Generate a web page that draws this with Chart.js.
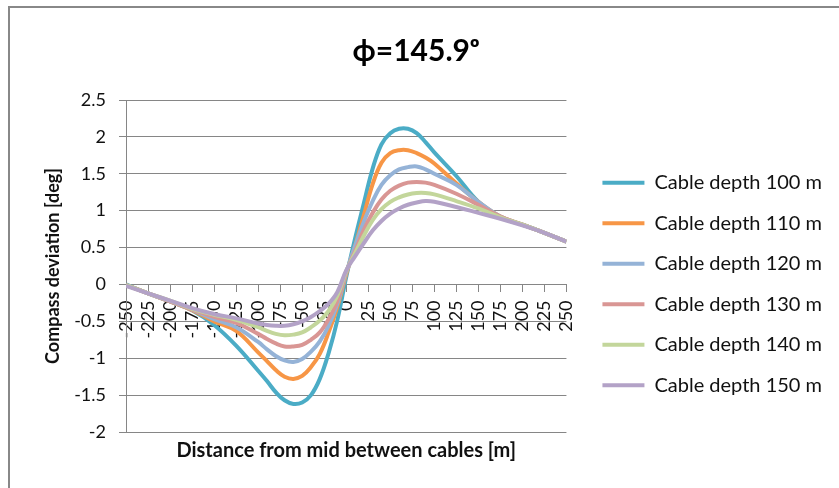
<!DOCTYPE html>
<html>
<head>
<meta charset="utf-8">
<script src="https://cdn.jsdelivr.net/npm/chart.js@4"></script>
<style>
	body { margin: 0; background: #fff; }
	#wrap { position: relative; width: 839px; height: 488px; overflow: hidden; }
	#frame { position: absolute; left: 8px; top: 6px; width: 900px; height: 600px; border-left: 2px solid #888; border-top: 2px solid #888; pointer-events: none; }
</style>
</head>
<body>
<div id="wrap">
	<canvas id="deviation-chart" width="839" height="488"></canvas>
	<div id="frame"></div>
</div>
<script>
// distance from mid between cables [m]
const distances = [-250, -225, -200, -175, -150, -125, -100, -90, -80, -70, -60, -50, -40, -30, -20, -10, 0, 10, 20, 30, 40, 50, 60, 70, 80, 90, 100, 125, 150, 175, 200, 225, 250];

// compass deviation [deg] per cable depth
const depth100 = [0.0, -0.12, -0.23, -0.35, -0.55, -0.83, -1.17, -1.31, -1.46, -1.57, -1.62, -1.6, -1.5, -1.28, -0.93, -0.48, 0.1, 0.62, 1.1, 1.57, 1.9, 2.05, 2.11, 2.11, 2.05, 1.93, 1.79, 1.47, 1.12, 0.91, 0.81, 0.7, 0.58];
const depth110 = [-0.01, -0.12, -0.23, -0.35, -0.5, -0.63, -0.92, -1.04, -1.16, -1.25, -1.28, -1.24, -1.12, -0.94, -0.65, -0.3, 0.14, 0.52, 0.94, 1.36, 1.65, 1.78, 1.82, 1.82, 1.78, 1.72, 1.64, 1.37, 1.12, 0.92, 0.81, 0.7, 0.58];
const depth120 = [-0.01, -0.12, -0.23, -0.34, -0.47, -0.58, -0.78, -0.88, -0.97, -1.03, -1.05, -1.01, -0.91, -0.77, -0.56, -0.26, 0.16, 0.52, 0.85, 1.13, 1.35, 1.48, 1.56, 1.59, 1.6, 1.56, 1.5, 1.35, 1.12, 0.92, 0.81, 0.7, 0.58];
const depth130 = [-0.01, -0.12, -0.23, -0.34, -0.44, -0.52, -0.67, -0.74, -0.8, -0.84, -0.84, -0.82, -0.75, -0.65, -0.47, -0.22, 0.17, 0.45, 0.74, 0.97, 1.15, 1.27, 1.34, 1.38, 1.39, 1.38, 1.35, 1.23, 1.08, 0.92, 0.81, 0.7, 0.58];
const depth140 = [-0.01, -0.12, -0.22, -0.33, -0.41, -0.48, -0.58, -0.63, -0.67, -0.69, -0.68, -0.65, -0.58, -0.49, -0.36, -0.15, 0.18, 0.42, 0.66, 0.87, 1.02, 1.12, 1.18, 1.22, 1.24, 1.24, 1.22, 1.13, 1.03, 0.91, 0.81, 0.7, 0.58];
const depth150 = [-0.02, -0.12, -0.22, -0.32, -0.4, -0.46, -0.53, -0.55, -0.56, -0.56, -0.54, -0.5, -0.44, -0.36, -0.26, -0.1, 0.19, 0.38, 0.56, 0.73, 0.86, 0.96, 1.03, 1.08, 1.11, 1.13, 1.12, 1.05, 0.97, 0.89, 0.8, 0.7, 0.58];

const seriesNames = ["Cable depth 100 m", "Cable depth 110 m", "Cable depth 120 m", "Cable depth 130 m", "Cable depth 140 m", "Cable depth 150 m"];
const seriesColors = ["#4BACC6", "#F79646", "#95B3D7", "#D99694", "#C3D69B", "#B3A2C7"];
const seriesValues = [depth100, depth110, depth120, depth130, depth140, depth150];

const FONT = "Lato, 'DejaVu Sans', sans-serif";
const AXIS_GREY = "#868686";
const TEXT = "#111";

Chart.defaults.font.family = FONT;
Chart.defaults.color = TEXT;

const datasets = seriesValues.map((vals, i) => ({
	label: seriesNames[i],
	data: distances.map((d, j) => ({ x: d, y: vals[j] })),
	borderColor: seriesColors[i],
	backgroundColor: seriesColors[i],
	borderWidth: 4,
	pointRadius: 0,
	tension: 0.4,
	fill: false,
	// excel draws the last series on top
	order: seriesValues.length - i,
	xAxisID: "x",
	yAxisID: "y",
}));

const ctx = document.getElementById("deviation-chart");

new Chart(ctx, {
	type: "line",
	data: { datasets },
	options: {
		responsive: false,
		animation: false,
		layout: { padding: { left: 0, right: 7, top: 0, bottom: 0 } },
		scales: {
			x: {
				type: "linear",
				position: "bottom",
				min: -250,
				max: 250,
				grid: { display: false, drawTicks: false },
				border: { display: false },
				ticks: { display: false },
				title: {
					display: true,
					text: "Distance from mid between cables [m]",
					color: TEXT,
					font: { size: 20, weight: "bold" },
					padding: { top: 7, bottom: 25 },
				},
			},
			// category labels sit on the zero line like in excel
			xZero: {
				type: "linear",
				axis: "x",
				position: { y: 0 },
				min: -250,
				max: 250,
				grid: { drawOnChartArea: false, drawTicks: true, tickLength: 7, color: AXIS_GREY },
				border: { display: true, color: AXIS_GREY },
				ticks: {
					stepSize: 25,
					autoSkip: false,
					minRotation: 90,
					maxRotation: 90,
					padding: 9,
					color: TEXT,
					font: { size: 18 },
				},
			},
			y: {
				min: -2,
				max: 2.5,
				grid: { color: AXIS_GREY, tickLength: 7 },
				border: { color: AXIS_GREY },
				ticks: {
					stepSize: 0.5,
					padding: 13,
					color: TEXT,
					font: { size: 18 },
					callback: (v) => String(v),
				},
				title: {
					display: true,
					text: "Compass deviation [deg]",
					color: TEXT,
					font: { size: 18, weight: "bold" },
					padding: { top: 42, bottom: 0 },
				},
				afterFit: (scale) => {
					scale.width = 126;
				},
			},
			// empty strip between plot and legend
			yGap: {
				type: "linear",
				axis: "y",
				position: "right",
				display: true,
				grid: { display: false, drawTicks: false },
				border: { display: false },
				ticks: { display: false },
				afterFit: (scale) => {
					scale.width = 15.5;
				},
			},
		},
		plugins: {
			title: {
				display: true,
				text: "ϕ=145.9ᵒ",
				color: "#000",
				font: { size: 30, weight: "bold" },
				padding: { top: 33, bottom: 31 },
			},
			legend: {
				position: "right",
				maxWidth: 400,
				title: { display: true, text: "", font: { size: 1 }, padding: { top: 79, bottom: 0 } },
				labels: {
					usePointStyle: true,
					pointStyle: "line",
					pointStyleWidth: 42,
					padding: 20.5,
					color: TEXT,
					font: { size: 20 },
					sort: (a, b) => a.datasetIndex - b.datasetIndex,
				},
			},
			tooltip: { enabled: false },
		},
	},
});
</script>
</body>
</html>
